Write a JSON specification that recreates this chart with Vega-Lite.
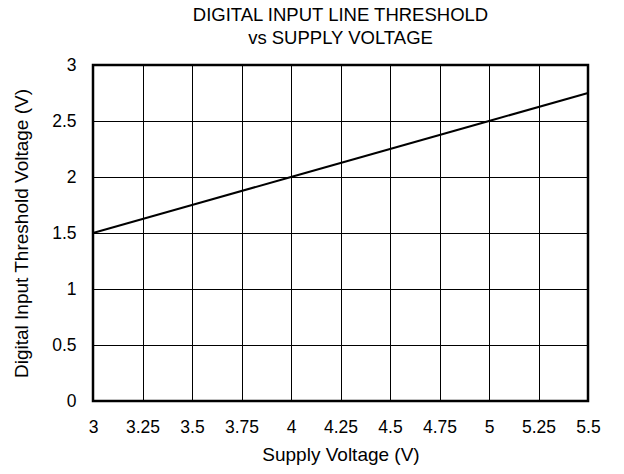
{
  "$schema": "https://vega.github.io/schema/vega-lite/v6.json",
  "width": 495,
  "height": 336,
  "autosize": {"type": "none"},
  "padding": {"left": 93, "top": 65, "right": 36, "bottom": 73},
  "title": {
    "text": ["DIGITAL INPUT LINE THRESHOLD", "vs SUPPLY VOLTAGE"],
    "font": "Liberation Sans",
    "fontSize": 18.5,
    "fontWeight": "normal",
    "color": "black",
    "lineHeight": 23,
    "offset": 8.5,
    "anchor": "middle"
  },
  "config": {
    "view": {"stroke": "black", "strokeWidth": 2.5},
    "axis": {
      "labelFont": "Liberation Sans",
      "labelFontSize": 17.5,
      "labelColor": "black",
      "titleFont": "Liberation Sans",
      "titleFontSize": 19,
      "titleFontWeight": "normal",
      "titleColor": "black",
      "domain": false,
      "ticks": false,
      "grid": true,
      "gridColor": "black",
      "gridWidth": 1,
      "gridOpacity": 1
    }
  },
  "data": {
    "values": [
      {"vs": 3, "vth": 1.5},
      {"vs": 3.5, "vth": 1.75},
      {"vs": 4, "vth": 2},
      {"vs": 4.5, "vth": 2.25},
      {"vs": 5, "vth": 2.5},
      {"vs": 5.5, "vth": 2.75}
    ]
  },
  "mark": {"type": "line", "color": "black", "strokeWidth": 2},
  "encoding": {
    "x": {
      "field": "vs",
      "type": "quantitative",
      "scale": {"domain": [3, 5.5], "nice": false, "zero": false},
      "axis": {
        "title": "Supply Voltage (V)",
        "values": [3, 3.25, 3.5, 3.75, 4, 4.25, 4.5, 4.75, 5, 5.25, 5.5],
        "labelExpr": "'' + datum.value",
        "labelPadding": 17,
        "titlePadding": 10,
        "labelFlush": false
      }
    },
    "y": {
      "field": "vth",
      "type": "quantitative",
      "scale": {"domain": [0, 3], "nice": false},
      "axis": {
        "title": "Digital Input Threshold Voltage (V)",
        "values": [0, 0.5, 1, 1.5, 2, 2.5, 3],
        "labelExpr": "'' + datum.value",
        "labelPadding": 17,
        "titlePadding": 20,
        "labelFlush": false
      }
    }
  }
}
